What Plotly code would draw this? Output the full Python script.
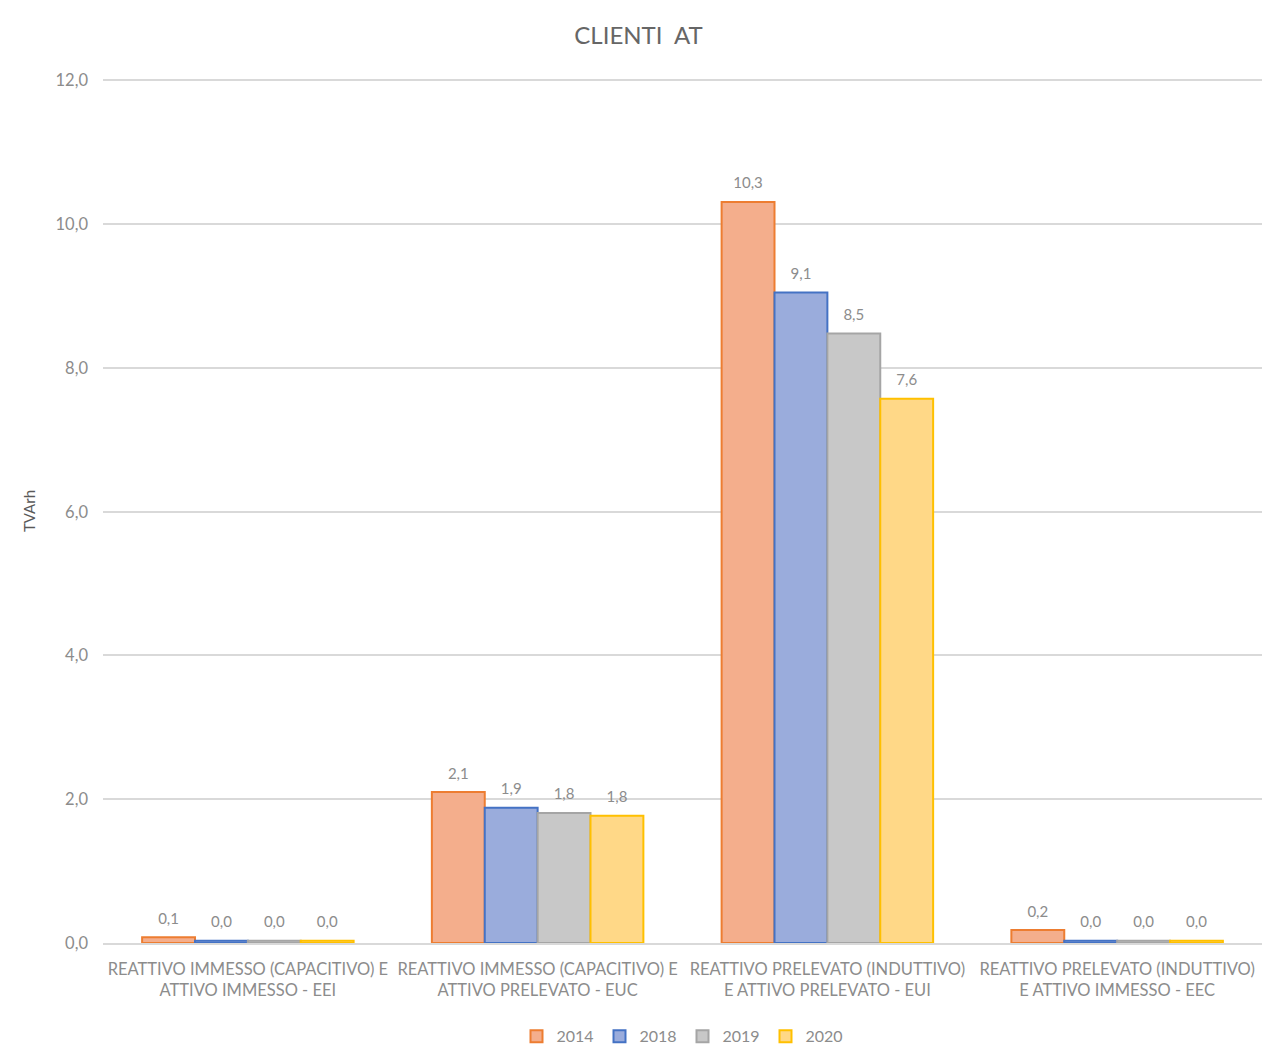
import plotly.graph_objects as go

categories = [
    "REATTIVO IMMESSO (CAPACITIVO) E<br>ATTIVO IMMESSO - EEI",
    "REATTIVO IMMESSO (CAPACITIVO) E<br>ATTIVO PRELEVATO - EUC",
    "REATTIVO PRELEVATO (INDUTTIVO)<br>E ATTIVO PRELEVATO - EUI",
    "REATTIVO PRELEVATO (INDUTTIVO)<br>E ATTIVO IMMESSO - EEC",
]
series_names = ["2014", "2018", "2019", "2020"]
v2014 = [0.08, 2.10, 10.31, 0.18]
v2018 = [0.03, 1.88, 9.05, 0.03]
v2019 = [0.03, 1.81, 8.48, 0.03]
v2020 = [0.03, 1.77, 7.57, 0.03]
values = [v2014, v2018, v2019, v2020]

fills = ["#F4AE8C", "#9AACDC", "#C8C8C8", "#FFD887"]
borders = ["#ED7D31", "#4472C4", "#A5A5A5", "#FFC000"]

GAP = 0.27
fig = go.Figure()
for name, vals, fc, bc in zip(series_names, values, fills, borders):
    fig.add_trace(go.Bar(
        x=categories, y=vals, name=name,
        marker=dict(color=fc, line=dict(color=bc, width=2)),
        hoverinfo="y",
    ))
# data labels, grouped like the bars, lifted above each bar top
for name, vals in zip(series_names, values):
    fig.add_trace(go.Scatter(
        x=categories, y=vals, mode="markers+text", showlegend=False,
        marker=dict(size=14, color="rgba(0,0,0,0)"),
        text=[f"{v:.1f}".replace(".", ",") for v in vals],
        textposition="top center",
        textfont=dict(color="#8C8C8C", size=15, family="Lato"),
        cliponaxis=False, hoverinfo="skip",
    ))

fig.update_layout(
    width=1277, height=1059,
    paper_bgcolor="white", plot_bgcolor="white",
    separators=",.",
    font=dict(family="Lato", color="#8C8C8C", size=15),
    title=dict(text="CLIENTI  AT", x=0.5, xanchor="center", y=0.966, yanchor="middle",
               font=dict(size=24, color="#666666", family="Lato")),
    margin=dict(l=103, r=15, t=79, b=116, autoexpand=False),
    barmode="group", bargap=GAP, bargroupgap=0,
    scattermode="group", scattergap=GAP,
    showlegend=True,
    legend=dict(orientation="h", x=0.5, xanchor="center", y=-0.108, yanchor="middle",
                font=dict(size=16, color="#8C8C8C"), itemwidth=30,
                entrywidth=38, traceorder="normal"),
    xaxis=dict(tickangle=0, showgrid=False, showline=True, linecolor="#D9D9D9", linewidth=1.5,
               tickfont=dict(size=16.5, color="#8C8C8C"), ticks="", ticklabelstandoff=10,
               automargin=False),
    yaxis=dict(range=[0, 12.02], dtick=2, tickformat=".1f", showgrid=True, gridcolor="#D9D9D9",
               gridwidth=1.5, zeroline=False, showline=False, ticks="",
               tickfont=dict(size=16.5, color="#8C8C8C"), ticklabelstandoff=14, automargin=False,
               title=dict(text="TVArh", font=dict(size=15, color="#595959"), standoff=16)),
)

fig.write_html("out.html")
